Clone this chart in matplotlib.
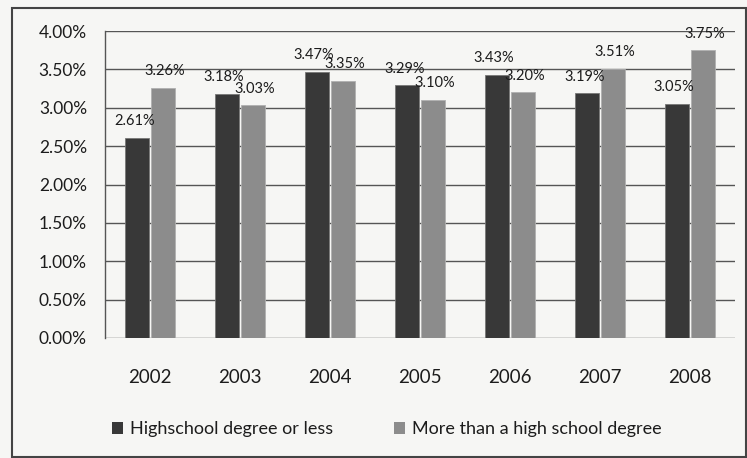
import numpy as np
import matplotlib
matplotlib.use('Agg')
import matplotlib.pyplot as plt
from matplotlib.patches import Rectangle, Patch

years = ['2002', '2003', '2004', '2005', '2006', '2007', '2008']
highschool = [2.61, 3.18, 3.47, 3.29, 3.43, 3.19, 3.05]
more_than_hs = [3.26, 3.03, 3.35, 3.10, 3.20, 3.51, 3.75]
yticks = [0.0, 0.5, 1.0, 1.5, 2.0, 2.5, 3.0, 3.5, 4.0]
series_names = ['Highschool degree or less', 'More than a high school degree']

plt.rcParams['font.family'] = ['Lato', 'DejaVu Sans']

dark = '#383838'
light = '#8c8c8c'
bg = '#f6f6f4'
txt = '#1c1c1c'

fig = plt.figure(figsize=(7.47, 4.58), dpi=100, facecolor=bg)
ax = fig.add_axes([105 / 747, 1 - 338 / 458, 630 / 747, 307 / 458])
ax.set_facecolor(bg)

x = np.arange(len(years))
w = 0.27
off = 0.145
b1 = ax.bar(x - off, highschool, w, color=dark, edgecolor='#777777', linewidth=0.6, zorder=3)
b2 = ax.bar(x + off, more_than_hs, w, color=light, edgecolor='#b0b0b0', linewidth=0.6, zorder=3)

# labels sit a bit above each bar, like excel's outside-end labels
for bars, vals, dx in [(b1, highschool, -2), (b2, more_than_hs, 1)]:
    for b, v in zip(bars, vals):
        ax.annotate('{:.2f}%'.format(v), (b.get_x() + b.get_width() / 2, v),
                    xytext=(dx, 12), textcoords='offset points',
                    ha='center', va='center', fontsize=10.5, color=txt, zorder=4)

ax.set_xlim(-0.5, len(years) - 0.5)
ax.set_ylim(0, 4.0)
ax.set_yticks(yticks)
ax.set_yticklabels(['{:.2f}%'.format(t) for t in yticks], fontsize=12.5, color=txt)
ax.set_xticks(x)
ax.set_xticklabels(years, fontsize=13.5, color=txt)
ax.tick_params(axis='y', length=0, pad=13)
ax.tick_params(axis='x', length=0, pad=22)

ax.yaxis.grid(True, color='#555555', linewidth=1.0, zorder=0)
ax.set_axisbelow(True)
for s in ['top', 'right', 'bottom']:
    ax.spines[s].set_visible(False)
ax.spines['left'].set_color('#555555')
ax.spines['left'].set_linewidth(1.0)

handles = [Patch(facecolor=dark, edgecolor='none'), Patch(facecolor=light, edgecolor='none')]
leg = fig.legend(handles, series_names, loc='center', bbox_to_anchor=(0.518, 0.063), ncol=2,
                 frameon=False, fontsize=13, handlelength=0.6, handleheight=0.6,
                 handletextpad=0.4, columnspacing=3.4)
for t in leg.get_texts():
    t.set_color(txt)

fig.add_artist(Rectangle((12 / 747, 1 / 458), 734 / 747, 449 / 458, transform=fig.transFigure,
                         fill=False, edgecolor='#444444', linewidth=1.5))

fig.savefig('out.png', dpi=100, facecolor=bg)
